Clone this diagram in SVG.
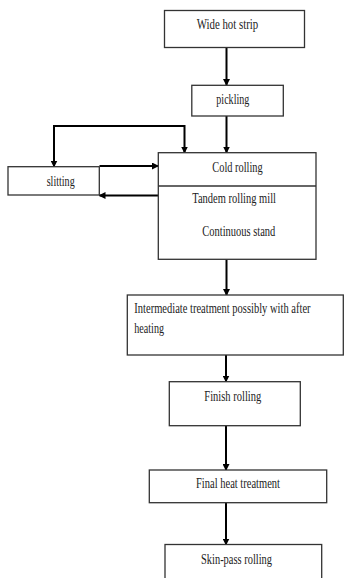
<svg xmlns="http://www.w3.org/2000/svg" width="344" height="578" viewBox="0 0 344 578">
<style>
.box{fill:#fff;stroke:#333;stroke-width:1.3}
.t{font-family:"Liberation Serif","Times New Roman",serif;font-size:15px;fill:#222}
.ln{fill:none;stroke:#000;stroke-width:2}
</style>
<defs>
<marker id="ah" markerWidth="7" markerHeight="7" refX="6" refY="3.5" orient="auto" markerUnits="userSpaceOnUse">
<path d="M0,0 L7,3.5 L0,7 Z" fill="#000"/>
</marker>
</defs>
<rect width="344" height="578" fill="#fff"/>
<g id="connectors">
<line class="ln" x1="226.5" y1="47.5" x2="226.5" y2="85" marker-end="url(#ah)"/>
<line class="ln" x1="226.5" y1="116" x2="226.5" y2="152.5" marker-end="url(#ah)"/>
<polyline class="ln" points="54,126 184.5,126 184.5,152.5" marker-end="url(#ah)"/>
<line class="ln" x1="54" y1="125" x2="54" y2="166.5" marker-end="url(#ah)"/>
<line class="ln" x1="99.5" y1="166" x2="158" y2="166" marker-end="url(#ah)"/>
<line class="ln" x1="158" y1="195.5" x2="99.5" y2="195.5" marker-end="url(#ah)"/>
<line class="ln" x1="226.5" y1="259.5" x2="226.5" y2="295" marker-end="url(#ah)"/>
<line class="ln" x1="226" y1="355" x2="226" y2="381.5" marker-end="url(#ah)"/>
<line class="ln" x1="226" y1="425.5" x2="226" y2="470" marker-end="url(#ah)"/>
<line class="ln" x1="226" y1="502.5" x2="226" y2="544.5" marker-end="url(#ah)"/>
</g>
<g id="wide-hot-strip">
<rect class="box" x="164.5" y="10.5" width="140" height="37"/>
<text class="t" transform="translate(196.7 28.5) scale(0.75 1)" textLength="82.1" lengthAdjust="spacingAndGlyphs">Wide hot strip</text>
</g>
<g id="pickling">
<rect class="box" x="191.8" y="85.3" width="91.5" height="30.7"/>
<text class="t" transform="translate(216.3 103.5) scale(0.75 1)" textLength="44" lengthAdjust="spacingAndGlyphs">pickling</text>
</g>
<g id="slitting">
<rect class="box" x="8" y="166.7" width="91.3" height="28.3"/>
<text class="t" transform="translate(46.7 185.7) scale(0.75 1)" textLength="37.3" lengthAdjust="spacingAndGlyphs">slitting</text>
</g>
<g id="cold-rolling">
<rect class="box" x="158.3" y="152.7" width="157.7" height="106.6"/>
<line x1="158.3" y1="186" x2="316" y2="186" stroke="#333" stroke-width="1.3"/>
<text class="t" transform="translate(212.3 171.7) scale(0.75 1)" textLength="67.2" lengthAdjust="spacingAndGlyphs">Cold rolling</text>
<text class="t" transform="translate(192.3 202.7) scale(0.75 1)" textLength="111.6" lengthAdjust="spacingAndGlyphs">Tandem rolling mill</text>
<text class="t" transform="translate(202.3 235.7) scale(0.75 1)" textLength="97.3" lengthAdjust="spacingAndGlyphs">Continuous stand</text>
</g>
<g id="intermediate-treatment">
<rect class="box" x="127.3" y="295" width="216" height="60"/>
<text class="t" transform="translate(134.3 312.7) scale(0.75 1)" textLength="235" lengthAdjust="spacingAndGlyphs">Intermediate treatment possibly with after</text>
<text class="t" transform="translate(134.3 333.3) scale(0.75 1)" textLength="39.6" lengthAdjust="spacingAndGlyphs">heating</text>
</g>
<g id="finish-rolling">
<rect class="box" x="169.3" y="381.7" width="131" height="44"/>
<text class="t" transform="translate(204.3 401) scale(0.75 1)" textLength="76" lengthAdjust="spacingAndGlyphs">Finish rolling</text>
</g>
<g id="final-heat-treatment">
<rect class="box" x="149.3" y="470" width="177.4" height="32.7"/>
<text class="t" transform="translate(196 487.7) scale(0.75 1)" textLength="112" lengthAdjust="spacingAndGlyphs">Final heat treatment</text>
</g>
<g id="skin-pass-rolling">
<rect class="box" x="165" y="544.5" width="156.7" height="40"/>
<text class="t" transform="translate(201 564.3) scale(0.75 1)" textLength="94.7" lengthAdjust="spacingAndGlyphs">Skin-pass rolling</text>
</g>
</svg>
